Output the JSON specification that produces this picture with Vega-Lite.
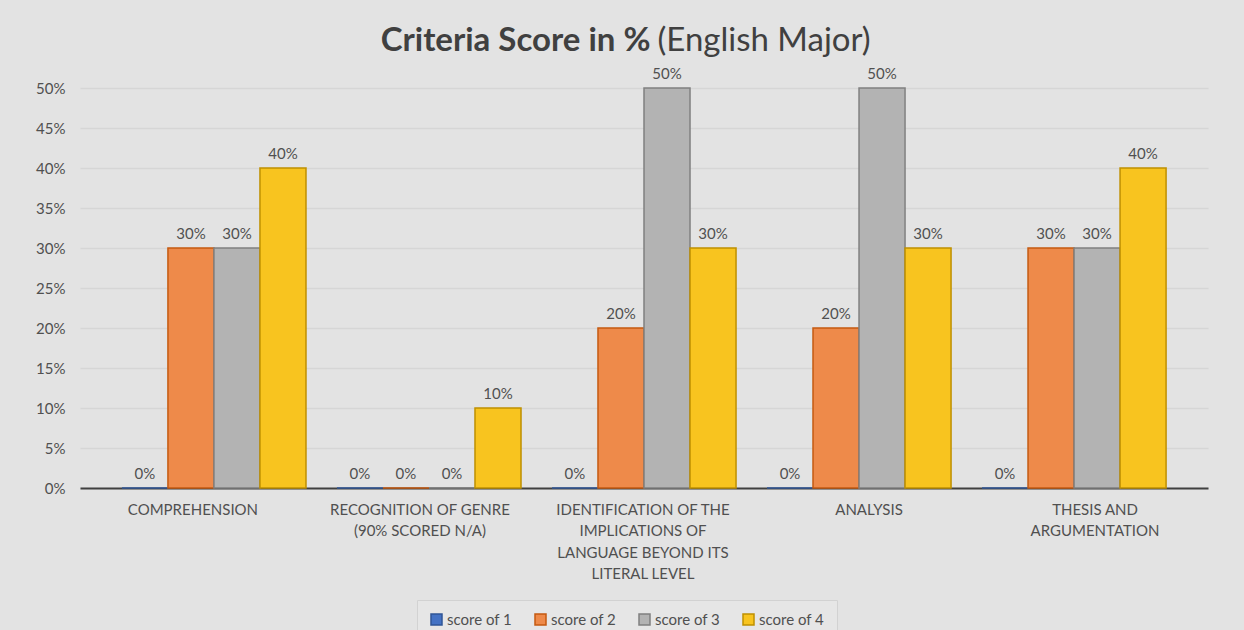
{
  "$schema": "https://vega.github.io/schema/vega-lite/v6.json",
  "autosize": {"type": "none"},
  "padding": {"left": 80, "top": 88, "right": 36, "bottom": 142},
  "width": 1128,
  "height": 400,
  "background": "#e3e3e3",
  "config": {
    "font": "Lato",
    "view": {"stroke": null}
  },
  "data": {
    "values": [
      {"criterion": "COMPREHENSION", "series": "score of 1", "pct": 0},
      {"criterion": "COMPREHENSION", "series": "score of 2", "pct": 0.3},
      {"criterion": "COMPREHENSION", "series": "score of 3", "pct": 0.3},
      {"criterion": "COMPREHENSION", "series": "score of 4", "pct": 0.4},
      {"criterion": "RECOGNITION OF GENRE (90% SCORED N/A)", "series": "score of 1", "pct": 0},
      {"criterion": "RECOGNITION OF GENRE (90% SCORED N/A)", "series": "score of 2", "pct": 0},
      {"criterion": "RECOGNITION OF GENRE (90% SCORED N/A)", "series": "score of 3", "pct": 0},
      {"criterion": "RECOGNITION OF GENRE (90% SCORED N/A)", "series": "score of 4", "pct": 0.1},
      {"criterion": "IDENTIFICATION OF THE IMPLICATIONS OF LANGUAGE BEYOND ITS LITERAL LEVEL", "series": "score of 1", "pct": 0},
      {"criterion": "IDENTIFICATION OF THE IMPLICATIONS OF LANGUAGE BEYOND ITS LITERAL LEVEL", "series": "score of 2", "pct": 0.2},
      {"criterion": "IDENTIFICATION OF THE IMPLICATIONS OF LANGUAGE BEYOND ITS LITERAL LEVEL", "series": "score of 3", "pct": 0.5},
      {"criterion": "IDENTIFICATION OF THE IMPLICATIONS OF LANGUAGE BEYOND ITS LITERAL LEVEL", "series": "score of 4", "pct": 0.3},
      {"criterion": "ANALYSIS", "series": "score of 1", "pct": 0},
      {"criterion": "ANALYSIS", "series": "score of 2", "pct": 0.2},
      {"criterion": "ANALYSIS", "series": "score of 3", "pct": 0.5},
      {"criterion": "ANALYSIS", "series": "score of 4", "pct": 0.3},
      {"criterion": "THESIS AND ARGUMENTATION", "series": "score of 1", "pct": 0},
      {"criterion": "THESIS AND ARGUMENTATION", "series": "score of 2", "pct": 0.3},
      {"criterion": "THESIS AND ARGUMENTATION", "series": "score of 3", "pct": 0.3},
      {"criterion": "THESIS AND ARGUMENTATION", "series": "score of 4", "pct": 0.4}
    ]
  },
  "encoding": {
    "x": {
      "field": "criterion",
      "type": "nominal",
      "sort": null,
      "scale": {"paddingInner": 0.144, "paddingOuter": 0.195},
      "axis": {
        "title": "(English Major)",
        "titleX": 577,
        "titleY": -438,
        "titleAlign": "left",
        "titleBaseline": "alphabetic",
        "titleAnchor": null,
        "titleAngle": 0,
        "titleFont": "Lato",
        "titleFontSize": 33,
        "titleFontWeight": "normal",
        "titleColor": "#404040",
        "labelAngle": 0,
        "labelFontSize": 15,
        "labelColor": "#505050",
        "labelPadding": 14,
        "labelLineHeight": 21.5,
        "labelBaseline": "top",
        "labelLimit": 300,
        "labelOffset": {
          "condition": [
            {"test": "datum.value == 'COMPREHENSION'", "value": -21},
            {"test": "datum.value == 'RECOGNITION OF GENRE (90% SCORED N/A)'", "value": -9},
            {"test": "datum.value == 'ANALYSIS'", "value": 10},
            {"test": "datum.value == 'THESIS AND ARGUMENTATION'", "value": 21}
          ],
          "value": -1
        },
        "labelExpr": "datum.value == 'RECOGNITION OF GENRE (90% SCORED N/A)' ? ['RECOGNITION OF GENRE', '(90% SCORED N/A)'] : datum.value == 'IDENTIFICATION OF THE IMPLICATIONS OF LANGUAGE BEYOND ITS LITERAL LEVEL' ? ['IDENTIFICATION OF THE', 'IMPLICATIONS OF', 'LANGUAGE BEYOND ITS', 'LITERAL LEVEL'] : datum.value == 'THESIS AND ARGUMENTATION' ? ['THESIS AND', 'ARGUMENTATION'] : datum.label",
        "ticks": false,
        "domain": true,
        "domainColor": "#404040",
        "domainWidth": 2,
        "grid": false
      }
    },
    "xOffset": {
      "field": "series",
      "type": "nominal",
      "scale": {"paddingInner": 0, "paddingOuter": 0}
    },
    "y": {
      "field": "pct",
      "type": "quantitative",
      "scale": {"domain": [0, 0.5], "nice": false},
      "axis": {
        "title": "Criteria Score in %",
        "titleX": 570,
        "titleY": -38,
        "titleAlign": "right",
        "titleBaseline": "alphabetic",
        "titleAnchor": null,
        "titleAngle": 0,
        "titleFont": "Lato",
        "titleFontSize": 33,
        "titleFontWeight": "bold",
        "titleColor": "#404040",
        "values": [0, 0.05, 0.1, 0.15, 0.2, 0.25, 0.3, 0.35, 0.4, 0.45, 0.5],
        "format": ".0%",
        "labelFontSize": 15,
        "labelColor": "#505050",
        "labelPadding": 15,
        "ticks": false,
        "domain": false,
        "grid": true,
        "gridColor": "#d6d6d6",
        "gridWidth": 1.5
      }
    }
  },
  "layer": [
    {
      "mark": {"type": "bar", "strokeWidth": 1.5, "fillOpacity": 1},
      "encoding": {
        "fill": {
          "field": "series",
          "type": "nominal",
          "scale": {"range": ["#4472C4", "#EE8A4A", "#B3B3B3", "#F8C41F"]},
          "legend": {
            "title": null,
            "orient": "none",
            "legendX": 337,
            "legendY": 512,
            "direction": "horizontal",
            "fillColor": "#e6e6e6",
            "strokeColor": "#d2d2d2",
            "padding": 12,
            "symbolType": "square",
            "symbolSize": 121,
            "symbolStrokeWidth": 1.5,
            "labelFontSize": 15,
            "labelColor": "#505050",
            "labelOffset": 3,
            "columnPadding": 19
          }
        },
        "stroke": {
          "field": "series",
          "type": "nominal",
          "scale": {"range": ["#2F5597", "#C55A11", "#808080", "#BF9000"]}
        }
      }
    },
    {
      "mark": {"type": "text", "baseline": "alphabetic", "dy": -9, "fontSize": 15, "color": "#505050"},
      "encoding": {
        "text": {"field": "pct", "type": "quantitative", "format": ".0%"}
      }
    }
  ]
}
